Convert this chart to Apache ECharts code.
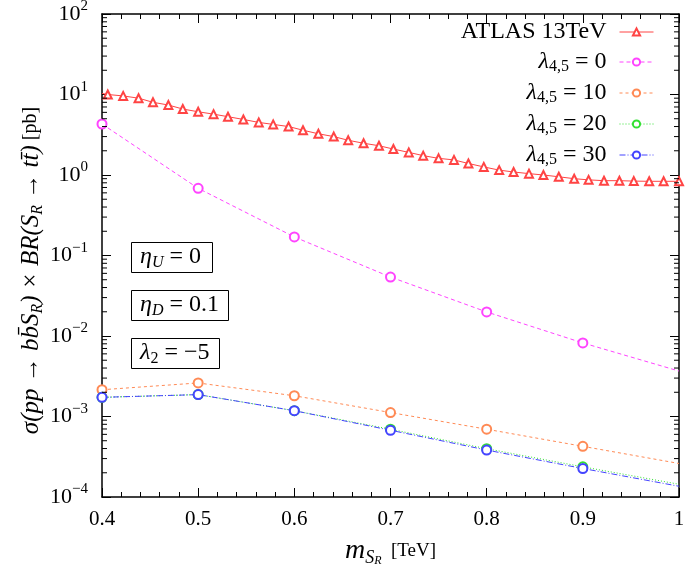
<!DOCTYPE html>
<html>
<head>
<meta charset="utf-8">
<script src="https://cdn.jsdelivr.net/npm/echarts@6/dist/echarts.min.js"></script>
<style>html,body{margin:0;padding:0;background:#fff}#c{width:686px;height:565px}</style>
</head>
<body>
<div id="c"></div>
<script>
// ---- data ----
var atlasMass = [0.4, 0.406, 0.422, 0.438, 0.453, 0.469, 0.484, 0.5, 0.516, 0.531, 0.547, 0.563, 0.578, 0.594,
  0.609, 0.625, 0.641, 0.656, 0.672, 0.688, 0.703, 0.719, 0.734, 0.75, 0.766, 0.781, 0.797, 0.813,
  0.828, 0.844, 0.859, 0.875, 0.891, 0.906, 0.922, 0.938, 0.953, 0.969, 0.984, 1.0];
var atlasXsec = [10.3, 10.0, 9.6, 9.0, 8.0, 7.4, 6.6, 6.1, 5.7, 5.3, 4.9, 4.5, 4.25, 4.0,
  3.6, 3.25, 3.0, 2.7, 2.48, 2.31, 2.1, 1.91, 1.74, 1.61, 1.54, 1.39, 1.26, 1.15,
  1.09, 1.04, 1.0, 0.95, 0.9, 0.87, 0.85, 0.85, 0.84, 0.835, 0.835, 0.835];
var massPts = [0.4, 0.5, 0.6, 0.7, 0.8, 0.9, 1.0];
var lam0  = [4.3, 0.683, 0.17, 0.054, 0.0199, 0.0082, 0.00367];
var lam10 = [2.15e-3, 2.61e-3, 1.81e-3, 1.12e-3, 6.95e-4, 4.26e-4, 2.61e-4];
var lam20 = [1.73e-3, 1.87e-3, 1.18e-3, 6.95e-4, 3.98e-4, 2.37e-4, 1.44e-4];
var lam30 = [1.73e-3, 1.87e-3, 1.18e-3, 6.75e-4, 3.83e-4, 2.26e-4, 1.36e-4];
var seriesNames = ['ATLAS 13TeV', 'λ0', 'λ10', 'λ20', 'λ30'];
var lamLabels = {'λ0': '0', 'λ10': '10', 'λ20': '20', 'λ30': '30'};
var xTickLabels = ['0.4', '0.5', '0.6', '0.7', '0.8', '0.9', '1'];

var FONT = "'Liberation Serif', 'DejaVu Serif', serif";
var minorVals = [];
for (var e = -4; e <= 1; e++) for (var m = 2; m <= 9; m++) minorVals.push(m * Math.pow(10, e));

function lamData(arr) {
  return massPts.map(function (x, i) {
    return i === massPts.length - 1 ? {value: [x, arr[i]], symbol: 'none'} : [x, arr[i]];
  });
}
var atlasData = atlasMass.map(function (x, i) {
  return i === 0 ? {value: [x, atlasXsec[i]], symbol: 'none'} : [x, atlasXsec[i]];
});

function tok(size, italic, lh, va) {
  return {fontSize: size, fontFamily: FONT, fontStyle: italic ? 'italic' : 'normal', fontWeight: 'normal',
          lineHeight: lh, verticalAlign: va || 'middle', color: '#000'};
}
var boxRich = {i: tok(24, true, 29), s: tok(16, true, 14, 'bottom'), sn: tok(16, false, 14, 'bottom'), n: tok(24, false, 29)};

var chart = echarts.init(document.getElementById('c'), null, {renderer: 'canvas'});
var axisLineStyle = {color: '#000', width: 1.5};
var option = {
  animation: false,
  backgroundColor: '#fff',
  textStyle: {fontFamily: FONT},
  grid: {left: 102, right: 7, top: 14, bottom: 68, containLabel: false, outerBoundsMode: 'none'},
  legend: {
    data: seriesNames, orient: 'vertical', right: 32, top: 20, align: 'right',
    itemWidth: 34, itemHeight: 9, itemGap: 6, padding: 0,
    itemStyle: {borderWidth: 1},
    lineStyle: {width: 1},
    formatter: function (name) {
      if (name.indexOf('ATLAS') === 0) return '{n|ATLAS 13TeV}{sp|}';
      return '{l|λ}{s|4,5}{n| = ' + lamLabels[name] + '}{sp|}';
    },
    textStyle: {
      fontFamily: FONT, color: '#000',
      rich: {
        n: tok(24, false, 26),
        l: tok(24, true, 26),
        s: tok(16, false, 14, 'bottom'),
        sp: {width: 8}
      }
    }
  },
  title: [
    {text: '{i|η}{s|U}{n| = 0}', left: 131, top: 240, borderColor: '#000', borderWidth: 1, padding: [2, 12, 2, 9],
     textStyle: {fontWeight: 'normal', rich: boxRich}},
    {text: '{i|η}{s|D}{n| = 0.1}', left: 131, top: 288, borderColor: '#000', borderWidth: 1, padding: [2, 10, 2, 9],
     textStyle: {fontWeight: 'normal', rich: boxRich}},
    {text: '{i|λ}{sn|2}{n| = −5}', left: 131, top: 336, borderColor: '#000', borderWidth: 1, padding: [2, 10, 2, 9],
     textStyle: {fontWeight: 'normal', rich: boxRich}}
  ],
  xAxis: [
    {type: 'value', min: 0.4, max: 1.0, interval: 0.1, position: 'bottom',
     axisLine: {lineStyle: axisLineStyle}, splitLine: {show: false},
     axisTick: {inside: true, length: 9, lineStyle: {color: '#000'}},
     minorTick: {show: true, splitNumber: 5, length: 5, lineStyle: {color: '#000'}},
     axisLabel: {fontFamily: FONT, fontSize: 21, color: '#000', margin: 12,
       formatter: function (v) { return xTickLabels[Math.round((v - 0.4) * 10)]; }},
     name: '{m|m}{s|S}{ss|R}{u|  [TeV]}', nameLocation: 'middle', nameGap: 38,
     nameTextStyle: {rich: {
       m: tok(28, true, 32), s: tok(18, true, 18, 'bottom'), ss: tok(12, true, 8, 'bottom'), u: tok(19, false, 32)
     }}},
    {type: 'value', min: 0.4, max: 1.0, interval: 0.1, position: 'top',
     axisLine: {lineStyle: axisLineStyle}, splitLine: {show: false},
     axisTick: {inside: true, length: 9, lineStyle: {color: '#000'}},
     minorTick: {show: true, splitNumber: 5, length: 5, lineStyle: {color: '#000'}},
     axisLabel: {show: false}}
  ],
  yAxis: [
    {type: 'log', logBase: 10, min: 1e-4, max: 100, position: 'left', splitNumber: 6,
     axisLine: {lineStyle: axisLineStyle}, splitLine: {show: false},
     axisTick: {inside: true, length: 9, lineStyle: {color: '#000'}},
     axisLabel: {margin: 14, formatter: function (v) {
         var ex = Math.round(Math.log10(v));
         return '{b|10}{e|' + (ex < 0 ? '−' + (-ex) : ex) + '}';
       },
       rich: {b: tok(22, false, 30), e: tok(15, false, 14, 'top')}},
     name: '{i|σ(pp → bb̄S}{s|R}{i|) × BR(S}{s|R}{i| → tt̄)}{u| [pb]}',
     nameLocation: 'middle', nameRotate: 90, nameGap: 56, nameMoveOverlap: false,
     nameTextStyle: {padding: [0, 30, 0, 0], rich: {
       i: tok(25, true, 30), s: tok(16, true, 14, 'bottom'), u: tok(20, false, 30)
     }}},
    {type: 'log', logBase: 10, min: 1e-4, max: 100, position: 'right', splitNumber: 6,
     axisLine: {lineStyle: axisLineStyle}, splitLine: {show: false},
     axisTick: {inside: true, length: 9, lineStyle: {color: '#000'}},
     axisLabel: {show: false}}
  ],
  series: [
    {name: 'ATLAS 13TeV', type: 'line', data: atlasData, symbol: 'emptyTriangle', symbolSize: 8,
     color: '#ff4444', lineStyle: {width: 1, color: '#ff4444'}, itemStyle: {color: '#ff4444', borderWidth: 1}, z: 3},
    {name: 'λ0', type: 'line', data: lamData(lam0), symbol: 'emptyCircle', symbolSize: 9,
     color: '#ff44ff', lineStyle: {width: 1, type: [4, 3], color: '#ff44ff'}, itemStyle: {color: '#ff44ff', borderWidth: 1}, z: 3},
    {name: 'λ10', type: 'line', data: lamData(lam10), symbol: 'emptyCircle', symbolSize: 9,
     color: '#ff8a55', lineStyle: {width: 1, type: [3, 3], color: '#ff8a55'}, itemStyle: {color: '#ff8a55', borderWidth: 1}, z: 3},
    {name: 'λ20', type: 'line', data: lamData(lam20), symbol: 'emptyCircle', symbolSize: 9,
     color: '#33e033', lineStyle: {width: 1, type: [1, 2], color: '#33e033'}, itemStyle: {color: '#33e033', borderWidth: 1}, z: 3},
    {name: 'λ30', type: 'line', data: lamData(lam30), symbol: 'emptyCircle', symbolSize: 9,
     color: '#4444ff', lineStyle: {width: 1, type: [6, 2, 1, 2], color: '#4444ff'}, itemStyle: {color: '#4444ff', borderWidth: 1}, z: 4},
    {name: 'minorTicks', type: 'custom', silent: true, xAxisIndex: 0, yAxisIndex: 0, z: 10,
     data: minorVals.map(function (v) { return [0.7, v]; }),
     renderItem: function (params, api) {
       var v = api.value(1);
       var pL = api.coord([0.4, v]);
       var pR = api.coord([1.0, v]);
       return {type: 'group', children: [
         {type: 'line', shape: {x1: pL[0], y1: pL[1], x2: pL[0] + 5, y2: pL[1]}, style: {stroke: '#000', lineWidth: 1}},
         {type: 'line', shape: {x1: pR[0], y1: pR[1], x2: pR[0] - 5, y2: pR[1]}, style: {stroke: '#000', lineWidth: 1}}
       ]};
     }}
  ]
};
chart.setOption(option);
</script>
</body>
</html>
